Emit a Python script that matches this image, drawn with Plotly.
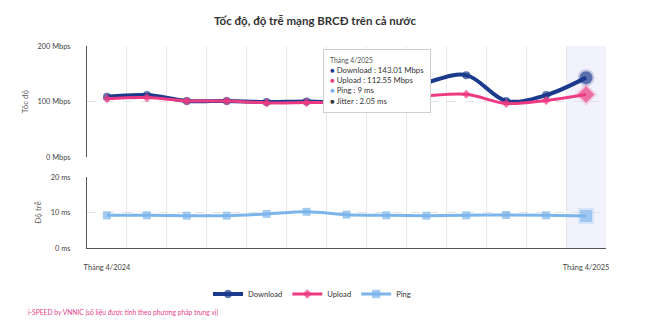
import plotly.graph_objects as go

months = ["Tháng 4/2024", "Tháng 5/2024", "Tháng 6/2024", "Tháng 7/2024", "Tháng 8/2024",
          "Tháng 9/2024", "Tháng 10/2024", "Tháng 11/2024", "Tháng 12/2024", "Tháng 1/2025",
          "Tháng 2/2025", "Tháng 3/2025", "Tháng 4/2025"]
download = [108.5, 111.5, 101, 101, 99, 100, 99, 112, 134, 147.5, 101, 111.5, 143.01]
upload = [105, 107, 101, 101, 97.5, 98, 99, 104, 110, 113, 96.5, 102, 112.55]
ping = [9.2, 9.2, 9.1, 9.1, 9.6, 10.2, 9.4, 9.2, 9.1, 9.2, 9.3, 9.2, 9.0]
jitter_last = 2.05
speed_ticks = [0, 100, 200]
lat_ticks = [0, 10, 20]

C_DL = "#1b3a8c"
C_UL = "#ec3b83"
C_PING = "#7cb5ec"
FONT = "Lato"

n = len(months)
idx = list(range(n))
last = n - 1

def sizes(base, big):
    return [big if i == last else base for i in idx]

def halo(color):
    return [color if i == last else "rgba(0,0,0,0)" for i in idx]

fig = go.Figure()

fig.add_trace(go.Scatter(
    x=idx, y=download, name="Download", xaxis="x2", yaxis="y2",
    mode="lines+markers", line=dict(color=C_DL, width=4, shape="spline", smoothing=1),
    marker=dict(symbol="circle", size=sizes(8, 13), color=C_DL,
                line=dict(width=[0]*(n-1) + [4], color=halo("rgba(27,58,140,0.28)")))))
fig.add_trace(go.Scatter(
    x=idx, y=upload, name="Upload", xaxis="x2", yaxis="y2",
    mode="lines+markers", line=dict(color=C_UL, width=3, shape="spline", smoothing=1),
    marker=dict(symbol="diamond", size=sizes(7, 13), color=C_UL,
                line=dict(width=[0]*(n-1) + [4], color=halo("rgba(236,59,131,0.25)")))))
fig.add_trace(go.Scatter(
    x=idx, y=ping, name="Ping", xaxis="x3", yaxis="y3",
    mode="lines+markers", line=dict(color=C_PING, width=3, shape="spline", smoothing=1),
    marker=dict(symbol="square", size=sizes(8, 12), color=C_PING,
                line=dict(width=[0]*(n-1) + [4], color=halo("rgba(124,181,236,0.3)")))))

xr = [-0.5, n - 0.5]
top_dom = [0.4505, 1.0]
bot_dom = [0.0, 0.3515]
axis_font = dict(family=FONT, size=7.4, color="#444")
title_font = dict(family=FONT, size=8, color="#666")

fig.update_layout(
    width=660, height=327,
    margin=dict(l=87, r=54, t=46, b=79, autoexpand=False),
    paper_bgcolor="white", plot_bgcolor="rgba(0,0,0,0)",
    font=dict(family=FONT, color="#333"),
    hovermode=False,
    title=dict(text="<b>Tốc độ, độ trễ mạng BRCĐ trên cả nước</b>", xref="container",
               x=315/660, xanchor="center", y=1 - 21/327, yanchor="middle",
               font=dict(family=FONT, size=11.5, color="#333")),
    # full-height helper axis for vertical grid and category labels
    xaxis=dict(domain=[0, 1], anchor="y", range=xr, tickmode="array", tickvals=[0, last],
               ticktext=[months[0], months[last]], showgrid=False, zeroline=False,
               ticks="outside", ticklen=12, tickcolor="rgba(0,0,0,0)", tickfont=axis_font,
               showline=False, automargin=False,
               minor=dict(tickmode="linear", tick0=-0.5, dtick=1, showgrid=True,
                          gridcolor="#e8e8e8", gridwidth=1, ticks="")),
    yaxis=dict(domain=[0, 1], anchor="x", range=[0, 1], visible=False, showgrid=False,
               automargin=False),
    xaxis2=dict(domain=[0, 1], anchor="y2", range=xr, visible=False, showgrid=False,
                automargin=False),
    yaxis2=dict(domain=top_dom, anchor="x2", range=[0, 200], tickmode="array",
                tickvals=speed_ticks, ticktext=[f"{v} Mbps" for v in speed_ticks],
                showgrid=True, gridcolor="#e2e2e2", griddash="dash",
                zeroline=False, showline=True, linecolor="#555", linewidth=1,
                tickfont=axis_font, ticks="", ticklabelstandoff=14, automargin=False,
                title=dict(text="Tốc độ", font=title_font, standoff=7)),
    xaxis3=dict(domain=[0, 1], anchor="y3", range=xr, showticklabels=False, showgrid=False,
                zeroline=False, showline=True, linecolor="#555", linewidth=1, ticks="",
                automargin=False),
    yaxis3=dict(domain=bot_dom, anchor="x3", range=[0, 20], tickmode="array",
                tickvals=lat_ticks, ticktext=[f"{v} ms" for v in lat_ticks],
                showgrid=True, gridcolor="#e2e2e2", griddash="dash",
                zeroline=False, showline=True, linecolor="#555", linewidth=1,
                tickfont=axis_font, ticks="", ticklabelstandoff=14, automargin=False,
                title=dict(text="Độ trễ", font=title_font, standoff=7)),
    legend=dict(orientation="h", xref="container", yref="container", x=312/660, xanchor="center",
                y=1 - 294/327, yanchor="middle", font=dict(family=FONT, size=7.6, color="#333"),
                itemwidth=30, tracegroupgap=0),
    showlegend=True,
)

# hovered category highlight band
fig.add_shape(type="rect", xref="x", yref="y", x0=last - 0.5, x1=last + 0.5, y0=0, y1=1,
              fillcolor="rgb(242,242,253)", line=dict(width=0), layer="below")

tip = (f"<span style='font-size:6.8px;color:#555'>{months[last]}</span><br>"
       f"<span style='color:{C_DL}'>●</span> Download : {download[last]:.2f} Mbps<br>"
       f"<span style='color:{C_UL}'>●</span> Upload : {upload[last]:.2f} Mbps<br>"
       f"<span style='color:{C_PING}'>●</span> Ping : {ping[last]:g} ms<br>"
       f"<span style='color:#333'>●</span> Jitter : {jitter_last:.2f} ms")
fig.add_annotation(xref="paper", yref="paper", x=(323 - 87)/519, y=1 - (49 - 46)/202,
                   xanchor="left", yanchor="top", align="left", showarrow=False,
                   text=tip, font=dict(family=FONT, size=7.8, color="#333"),
                   bgcolor="white", bordercolor="#cfcfcf", borderwidth=1, borderpad=6)

fig.add_annotation(xref="paper", yref="paper", x=(26 - 87)/519, y=1 - (312 - 46)/202,
                   xanchor="left", yanchor="middle", showarrow=False,
                   text="i-SPEED by VNNIC (số liệu được tính theo phương pháp trung vị)",
                   font=dict(family=FONT, size=6.7, color="#e8408a"))

fig.write_html("out.html")
